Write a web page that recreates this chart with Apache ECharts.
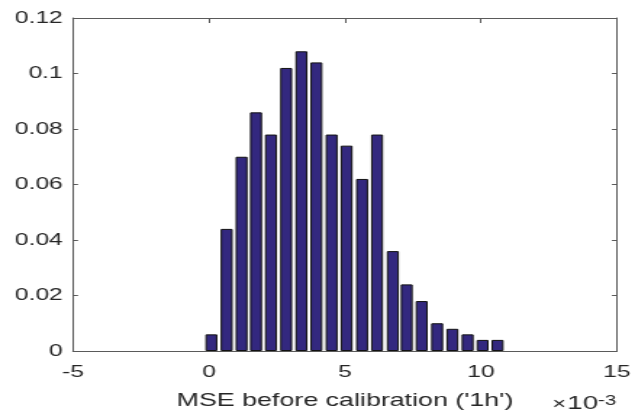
<!DOCTYPE html>
<html>
<head>
<meta charset="utf-8">
<script src="https://cdn.jsdelivr.net/npm/echarts@6/dist/echarts.min.js"></script>
<style>
    html, body { margin: 0; padding: 0; background: #fff; overflow: hidden; }
    /* the reference figure is stretched horizontally, so draw narrow and widen it */
    #main { width: 438px; height: 420px; transform: scaleX(1.4498); transform-origin: 0 0; }
</style>
</head>
<body>
<div id="main"></div>
<script>
    // bin centres (x 10^-3) and relative frequencies
    var binCenters = [0.09, 0.65, 1.20, 1.73, 2.28, 2.84, 3.40, 3.95, 4.51, 5.06,
                      5.63, 6.18, 6.76, 7.27, 7.82, 8.39, 8.95, 9.51, 10.06, 10.61];
    var freqs = [0.006, 0.044, 0.070, 0.086, 0.078, 0.102, 0.108, 0.104, 0.078, 0.074,
                 0.062, 0.078, 0.036, 0.024, 0.018, 0.010, 0.008, 0.006, 0.004, 0.004];
    var xTicks = [-5, 0, 5, 10, 15];
    var yTicks = [0, 0.02, 0.04, 0.06, 0.08, 0.1, 0.12];

    var font = 'Liberation Sans, Arial, sans-serif';
    var axisColor = '#5a5a5a';
    var textColor = '#262626';

    var barData = [];
    for (var i = 0; i < binCenters.length; i++) {
        barData.push([binCenters[i], freqs[i]]);
    }

    var chart = echarts.init(document.getElementById('main'));
    var xBase = {
        type: 'value',
        min: xTicks[0],
        max: xTicks[xTicks.length - 1],
        interval: 5,
        splitLine: {show: false},
        axisLine: {show: true, onZero: false, lineStyle: {color: axisColor, width: 1}},
        axisTick: {show: true, inside: true, length: 5, lineStyle: {color: axisColor}}
    };
    var yBase = {
        type: 'value',
        min: yTicks[0],
        max: yTicks[yTicks.length - 1],
        interval: 0.02,
        splitLine: {show: false},
        axisLine: {show: true, onZero: false, lineStyle: {color: axisColor, width: 1}},
        axisTick: {show: true, inside: true, length: 3.5, lineStyle: {color: axisColor}}
    };

    var option = {
        animation: false,
        backgroundColor: '#fff',
        grid: {left: 50.3, right: 11.7, top: 18, bottom: 69},
        xAxis: [
            Object.assign({}, xBase, {
                position: 'bottom',
                name: "MSE before calibration ('1h')",
                nameLocation: 'middle',
                nameGap: 40,
                nameTextStyle: {color: textColor, fontSize: 18.5, fontFamily: font},
                axisLabel: {color: textColor, fontSize: 17, fontFamily: font, margin: 13}
            }),
            Object.assign({}, xBase, {
                position: 'top',
                axisLabel: {show: false}
            })
        ],
        yAxis: [
            Object.assign({}, yBase, {
                position: 'left',
                axisLabel: {
                    color: textColor, fontSize: 17, fontFamily: font, margin: 7,
                    formatter: function (v) { return String(+v.toFixed(2)); }
                }
            }),
            Object.assign({}, yBase, {
                position: 'right',
                axisLabel: {show: false}
            })
        ],
        series: [{
            type: 'bar',
            xAxisIndex: 0,
            yAxisIndex: 0,
            barWidth: 8.3,
            data: barData,
            itemStyle: {color: '#33287f', borderColor: '#111', borderWidth: 1}
        }],
        graphic: [{
            type: 'text',
            left: 381,
            top: 394,
            style: {
                text: '{a|\u00d7}{b|10}{c|-3}',
                rich: {
                    a: {fontSize: 16, fontFamily: font, fill: textColor, verticalAlign: 'bottom', padding: [0, 1, 0, 0]},
                    b: {fontSize: 19, fontFamily: font, fill: textColor, verticalAlign: 'bottom'},
                    c: {fontSize: 14, fontFamily: font, fill: textColor, verticalAlign: 'top'}
                }
            }
        }]
    };
    chart.setOption(option);
</script>
</body>
</html>
